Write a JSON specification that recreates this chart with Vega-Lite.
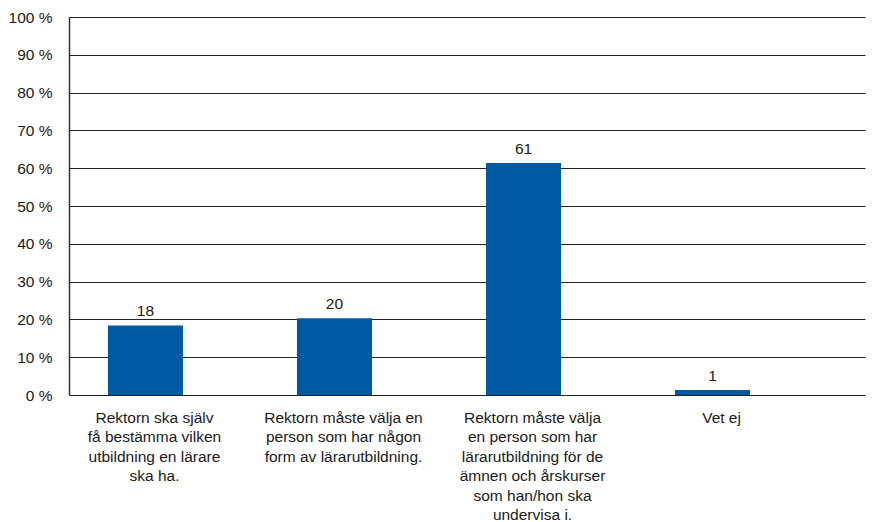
{
  "$schema": "https://vega.github.io/schema/vega-lite/v6.json",
  "width": 796,
  "height": 378,
  "autosize": {"type": "none"},
  "padding": {"left": 69, "top": 17, "right": 14, "bottom": 127},
  "background": "white",
  "config": {
    "font": "Liberation Sans",
    "view": {"stroke": null}
  },
  "data": {
    "values": [
      {"kategori": "Rektorn ska själv\nfå bestämma vilken\nutbildning en lärare\nska ha.", "andel": 18.4},
      {"kategori": "Rektorn måste välja en\nperson som har någon\nform av lärarutbildning.", "andel": 20.3},
      {"kategori": "Rektorn måste välja\nen person som har\nlärarutbildning för de\nämnen och årskurser\nsom han/hon ska\nundervisa i.", "andel": 61.4},
      {"kategori": "Vet ej", "andel": 1.3}
    ]
  },
  "encoding": {
    "x": {
      "field": "kategori",
      "type": "nominal",
      "sort": null,
      "scale": {"paddingInner": 0.603, "paddingOuter": 0.407, "align": 0.253},
      "axis": {
        "title": null,
        "labelAngle": 0,
        "labelExpr": "split(datum.value, '\\n')",
        "labelFontSize": 15.5,
        "labelColor": "#1a1a1a",
        "labelLineHeight": 19.5,
        "labelPadding": 15,
        "labelOffset": 9,
        "labelBaseline": "top",
        "ticks": false,
        "domain": false,
        "grid": false
      }
    },
    "y": {
      "field": "andel",
      "type": "quantitative",
      "scale": {"domain": [0, 100], "nice": false},
      "axis": {
        "title": null,
        "values": [0, 10, 20, 30, 40, 50, 60, 70, 80, 90, 100],
        "labelExpr": "datum.value + ' %'",
        "labelFontSize": 15.5,
        "labelColor": "#1a1a1a",
        "labelPadding": 17,
        "ticks": false,
        "domain": true,
        "domainColor": "#333333",
        "domainWidth": 1.5,
        "grid": true,
        "gridColor": "#222222",
        "gridWidth": 1,
        "gridOpacity": 1
      }
    }
  },
  "layer": [
    {
      "mark": {"type": "bar", "color": "#005AA3"}
    },
    {
      "mark": {"type": "text", "dy": -14, "fontSize": 15.5, "color": "#1a1a1a", "baseline": "middle"},
      "encoding": {
        "text": {"field": "andel", "type": "quantitative", "format": ".0f"}
      }
    },
    {
      "mark": {"type": "rule", "color": "#111111", "strokeWidth": 1.5},
      "encoding": {"y": {"datum": 0}}
    }
  ]
}
